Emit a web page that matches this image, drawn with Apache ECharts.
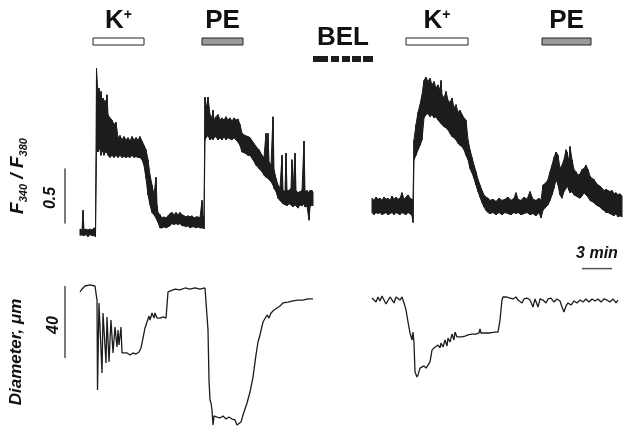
<!DOCTYPE html>
<html><head><meta charset="utf-8">
<script src="https://cdn.jsdelivr.net/npm/echarts@6/dist/echarts.min.js"></script>
<style>html,body{margin:0;padding:0;background:#fff}#c{width:624px;height:430px}</style>
</head><body><div id="c"></div>
<script>
// time in minutes; F340/F380 traces given as [t, lower edge, upper edge] of the noisy band
const ratioCtrl = [
[8.0,0.44,0.50],[8.2,0.45,0.49],[8.3,0.44,0.67],[8.4,0.44,0.49],[8.6,0.45,0.50],[8.8,0.43,0.49],[9.0,0.45,0.50],[9.2,0.44,0.49],[9.4,0.44,0.51],[9.55,0.43,0.50],
[9.65,1.22,1.96],[9.8,1.20,1.72],[9.9,1.26,1.78],[10.0,1.22,1.67],[10.1,1.17,1.75],[10.2,1.20,1.63],[10.3,1.24,1.69],[10.4,1.17,1.58],[10.5,1.22,1.67],[10.6,1.19,1.56],
[10.7,1.22,1.72],[10.8,1.17,1.54],[11.0,1.15,1.51],[11.2,1.17,1.49],[11.4,1.15,1.45],[11.6,1.17,1.47],[11.8,1.15,1.33],[12.0,1.17,1.35],[12.2,1.15,1.31],[12.4,1.16,1.34],
[12.6,1.15,1.31],[12.8,1.16,1.33],[13.0,1.15,1.30],[13.2,1.17,1.34],[13.4,1.15,1.31],[13.6,1.16,1.33],[13.8,1.15,1.31],[14.0,1.15,1.34],[14.2,1.13,1.30],[14.4,1.08,1.26],
[14.6,0.96,1.22],[14.8,0.81,1.13],[15.0,0.72,0.99],[15.2,0.65,0.90],[15.4,0.63,0.81],[15.6,0.60,0.97],[15.7,0.58,0.72],[15.8,0.56,0.65],[16.0,0.51,0.63],[16.2,0.51,0.60],
[16.4,0.52,0.61],[16.6,0.51,0.60],[16.8,0.52,0.62],[17.0,0.53,0.64],[17.2,0.55,0.65],[17.4,0.54,0.63],[17.6,0.55,0.65],[17.8,0.54,0.63],[18.0,0.55,0.65],[18.2,0.53,0.63],
[18.4,0.53,0.62],[18.6,0.52,0.61],[18.8,0.53,0.62],[19.0,0.51,0.61],[19.2,0.52,0.62],[19.4,0.52,0.60],[19.6,0.51,0.61],[19.8,0.52,0.61],[20.0,0.51,0.60],[20.2,0.51,0.76],
[20.3,0.51,0.61],[20.4,0.50,0.62],[20.5,1.31,1.70],[20.6,1.33,1.58],[20.8,1.35,1.70],[21.0,1.31,1.54],[21.2,1.33,1.51],[21.3,1.31,1.58],[21.4,1.33,1.49],[21.6,1.34,1.52],
[21.8,1.31,1.54],[22.0,1.33,1.49],[22.2,1.31,1.51],[22.4,1.34,1.49],[22.6,1.31,1.52],[22.8,1.33,1.49],[23.0,1.32,1.51],[23.2,1.31,1.48],[23.4,1.33,1.51],[23.6,1.31,1.49],
[23.8,1.29,1.50],[24.0,1.26,1.45],[24.2,1.20,1.37],[24.5,1.19,1.35],[24.8,1.17,1.34],[25.0,1.17,1.33],[25.3,1.13,1.29],[25.6,1.08,1.25],[25.9,1.05,1.22],[26.2,1.02,1.17],
[26.4,0.99,1.15],[26.6,0.97,1.37],[26.7,0.97,1.13],[26.8,0.96,1.37],[26.9,0.95,1.11],[27.1,0.93,1.08],[27.3,0.90,1.52],[27.4,0.87,1.04],[27.6,0.84,0.96],[27.8,0.78,0.90],
[28.0,0.76,0.87],[28.2,0.74,1.17],[28.3,0.73,0.85],[28.5,0.72,0.84],[28.6,0.72,1.19],[28.7,0.71,0.85],[28.9,0.73,0.85],[29.1,0.72,0.87],[29.2,0.71,1.13],[29.3,0.70,0.84],
[29.5,0.72,1.19],[29.6,0.71,0.85],[29.8,0.69,0.83],[30.0,0.72,0.84],[30.2,0.71,0.85],[30.4,0.73,1.30],[30.5,0.70,0.84],[30.7,0.71,0.85],[30.9,0.58,0.83],[31.0,0.70,0.85],
[31.2,0.72,0.85],[31.3,0.71,0.83]
];
const ratioBel = [
[37.2,0.65,0.78],[37.4,0.63,0.76],[37.6,0.65,0.79],[37.8,0.64,0.77],[38.0,0.65,0.78],[38.2,0.63,0.76],[38.4,0.64,0.79],[38.6,0.65,0.77],[38.8,0.63,0.78],[39.0,0.64,0.76],
[39.2,0.65,0.80],[39.4,0.63,0.77],[39.6,0.65,0.79],[39.8,0.64,0.77],[40.0,0.63,0.78],[40.2,0.65,0.83],[40.4,0.64,0.77],[40.6,0.63,0.79],[40.8,0.65,0.81],[41.0,0.64,0.78],
[41.2,0.62,0.77],[41.3,0.56,0.76],[41.4,1.13,1.31],[41.6,1.17,1.45],[41.8,1.22,1.56],[42.0,1.26,1.63],[42.2,1.31,1.72],[42.4,1.51,1.85],[42.6,1.54,1.88],[42.8,1.55,1.84],
[43.0,1.52,1.87],[43.2,1.54,1.81],[43.4,1.51,1.84],[43.6,1.52,1.78],[43.8,1.49,1.81],[44.0,1.47,1.76],[44.1,1.46,1.85],[44.2,1.45,1.72],[44.4,1.43,1.69],[44.6,1.42,1.75],
[44.8,1.40,1.67],[45.0,1.37,1.65],[45.2,1.34,1.69],[45.4,1.33,1.60],[45.6,1.31,1.63],[45.8,1.28,1.56],[46.0,1.26,1.58],[46.2,1.25,1.54],[46.4,1.22,1.51],[46.6,1.17,1.49],
[46.8,1.13,1.31],[47.0,1.05,1.22],[47.2,1.01,1.15],[47.4,0.96,1.08],[47.6,0.90,1.02],[47.8,0.84,0.95],[48.0,0.79,0.90],[48.2,0.74,0.85],[48.4,0.70,0.81],[48.6,0.67,0.79],
[48.8,0.65,0.78],[49.0,0.64,0.76],[49.3,0.65,0.77],[49.6,0.63,0.75],[49.9,0.65,0.78],[50.2,0.63,0.76],[50.5,0.65,0.77],[50.8,0.64,0.79],[51.1,0.63,0.76],[51.4,0.65,0.78],
[51.6,0.64,0.83],[51.8,0.65,0.77],[52.1,0.63,0.76],[52.4,0.64,0.79],[52.7,0.65,0.77],[53.0,0.63,0.84],[53.3,0.64,0.77],[53.6,0.62,0.76],[53.9,0.65,0.78],[54.1,0.60,0.76],
[54.3,0.67,0.90],[54.6,0.70,0.92],[54.8,0.72,0.95],[55.0,0.76,1.02],[55.2,0.81,1.08],[55.4,0.87,1.15],[55.6,0.95,1.20],[55.8,0.90,1.17],[56.0,0.81,1.05],[56.2,0.78,1.08],
[56.4,0.84,1.13],[56.6,0.87,1.22],[56.7,0.90,1.20],[56.9,0.85,1.11],[57.0,0.83,1.25],[57.2,0.84,1.13],[57.4,0.81,1.04],[57.6,0.80,1.02],[57.8,0.79,0.99],[58.0,0.78,1.00],
[58.2,0.80,1.04],[58.4,0.83,1.05],[58.6,0.81,1.08],[58.8,0.79,1.04],[59.0,0.76,0.98],[59.2,0.75,0.96],[59.4,0.74,0.95],[59.6,0.72,0.92],[59.8,0.71,0.90],[60.0,0.70,0.89],
[60.2,0.68,0.87],[60.4,0.67,0.85],[60.6,0.65,0.86],[60.8,0.65,0.85],[61.0,0.64,0.84],[61.2,0.63,0.85],[61.4,0.62,0.82],[61.6,0.64,0.83],[61.8,0.61,0.81],[62.0,0.62,0.82],
[62.2,0.61,0.80]
];
// diameter traces, [t, µm]
const diamCtrl = [
[8.0,146.7],[8.2,148.3],[8.5,150.0],[9.0,150.6],[9.5,150.0],[9.6,149.4],[9.7,142.2],[9.75,92.2],[9.9,140.6],[10.2,101.7],
[10.3,135.0],[10.6,107.2],[10.7,132.8],[10.9,107.8],[11.1,131.1],[11.3,112.8],[11.5,127.2],[11.7,116.1],[11.8,125.6],[11.9,117.2],
[12.1,127.2],[12.2,112.8],[12.4,113.3],[12.7,112.8],[13.0,111.7],[13.3,112.8],[13.6,112.2],[13.9,113.3],[14.1,115.6],[14.3,121.1],
[14.5,126.7],[14.7,130.0],[14.9,133.3],[15.0,131.1],[15.2,135.0],[15.4,132.2],[15.5,135.0],[15.7,132.2],[16.0,132.2],[16.3,132.8],
[16.6,132.2],[16.7,139.4],[16.8,146.7],[17.0,147.8],[17.5,148.3],[18.0,147.8],[18.5,148.9],[19.0,148.3],[19.5,148.9],[20.0,148.3],
[20.5,148.9],[20.7,148.3],[20.8,125.6],[20.9,97.8],[21.0,86.7],[21.1,85.0],[21.2,81.1],[21.3,72.8],[21.4,77.8],[21.7,77.2],
[22.0,76.7],[22.3,77.8],[22.6,76.1],[22.9,77.2],[23.2,76.1],[23.5,75.6],[23.7,72.8],[23.9,71.7],[24.1,74.4],[24.3,78.3],
[24.7,85.0],[25.0,91.1],[25.3,99.4],[25.6,111.7],[25.8,118.9],[26.0,122.8],[26.3,130.0],[26.5,131.1],[26.7,133.9],[26.9,132.2],
[27.1,135.0],[27.4,136.7],[27.7,137.8],[28.0,138.9],[28.3,140.6],[28.8,141.1],[29.3,141.7],[29.8,142.2],[30.3,142.2],[30.8,142.8],
[31.3,142.8]
];
const diamBel = [
[37.2,143.3],[37.4,144.4],[37.6,141.1],[37.8,143.9],[38.0,141.7],[38.2,144.4],[38.4,143.9],[38.6,140.0],[38.8,140.6],[39.0,143.9],
[39.2,144.4],[39.4,140.6],[39.6,143.9],[39.8,144.4],[40.0,142.2],[40.2,143.9],[40.4,140.6],[40.6,136.7],[40.8,130.0],[41.0,123.9],
[41.2,120.0],[41.3,124.4],[41.4,118.3],[41.5,102.2],[41.7,99.4],[41.8,100.6],[42.0,104.4],[42.2,103.3],[42.4,105.6],[42.6,104.4],
[42.8,106.1],[43.0,107.8],[43.2,114.4],[43.4,115.6],[43.6,116.7],[43.8,117.2],[44.0,115.6],[44.1,118.3],[44.3,116.1],[44.5,120.0],
[44.7,116.7],[44.8,121.1],[45.0,118.9],[45.2,123.3],[45.4,120.0],[45.5,124.4],[45.7,121.7],[45.9,122.2],[46.2,121.7],[46.5,122.2],
[46.8,122.8],[47.2,123.3],[47.6,123.3],[47.9,123.9],[48.0,126.1],[48.1,123.9],[48.5,123.9],[49.0,123.9],[49.5,124.4],[49.8,124.4],
[50.0,131.1],[50.2,142.2],[50.3,143.9],[50.6,143.9],[51.0,143.3],[51.3,142.8],[51.6,143.9],[51.8,142.2],[52.0,143.3],[52.2,140.6],
[52.4,142.8],[52.7,143.3],[53.0,142.2],[53.3,138.3],[53.5,142.8],[53.8,138.3],[54.0,142.8],[54.3,142.2],[54.6,140.6],[54.8,142.8],
[55.1,143.3],[55.4,141.1],[55.7,142.8],[56.0,141.7],[56.2,138.3],[56.4,135.6],[56.6,138.9],[56.8,140.6],[57.1,139.4],[57.4,141.7],
[57.7,140.6],[58.0,142.2],[58.3,141.1],[58.6,142.8],[58.9,141.1],[59.2,142.8],[59.5,141.7],[59.8,142.8],[60.1,141.1],[60.4,142.8],
[60.7,142.2],[61.0,141.1],[61.3,142.8],[61.6,140.6],[61.8,142.2]
];
// drug application periods [start, end] in minutes
const stimK = [[9.3,14.4],[40.6,46.8]];
const stimPE = [[20.2,24.3],[54.2,59.1]];
const stimBEL = [[31.3,37.3]];
// scale bars
const scaleRatio = 0.5, scaleDiam = 40, scaleTime = 3;

const INK = '#1c1c1c';
const FONT = '"Liberation Sans", Arial, sans-serif';
const chart = echarts.init(document.getElementById('c'), null, {renderer: 'canvas'});

// band between lower and upper edge, one quad per pair of consecutive samples
function bandSeries(arr) {
  const segs = [];
  for (let i = 0; i < arr.length - 1; i++) {
    segs.push([arr[i][0], arr[i][1], arr[i][2], arr[i+1][0], arr[i+1][1], arr[i+1][2]]);
  }
  return {type:'custom', xAxisIndex:0, yAxisIndex:0, clip:false, data:segs,
    renderItem:function(params, api){
      const a = api.coord([api.value(0), api.value(1)]);
      const b = api.coord([api.value(0), api.value(2)]);
      const c = api.coord([api.value(3), api.value(5)]);
      const d = api.coord([api.value(3), api.value(4)]);
      return {type:'polygon', shape:{points:[a, b, c, d]},
        style:{fill:INK, stroke:INK, lineWidth:1, lineJoin:'round'}};
    }};
}

const stimData = [];
stimK.forEach(s => stimData.push([s[0], s[1], 0]));
stimPE.forEach(s => stimData.push([s[0], s[1], 1]));
stimBEL.forEach(s => stimData.push([s[0], s[1], 2]));

const xAx = i => ({type:'value', gridIndex:i, min:0, max:62.4, show:false});

chart.setOption({
  animation:false,
  backgroundColor:'#fff',
  grid:[
    {left:0, right:0, top:64, height:209},
    {left:0, right:0, top:286, height:144},
    {left:0, right:0, top:0, height:64}
  ],
  xAxis:[xAx(0), xAx(1), xAx(2)],
  yAxis:[
    {type:'value', gridIndex:0, min:0.1, max:2.0, show:false},
    {type:'value', gridIndex:1, min:70, max:150, show:false},
    {type:'value', gridIndex:2, min:0, max:1, show:false}
  ],
  series:[
    bandSeries(ratioCtrl),
    bandSeries(ratioBel),
    {type:'line', xAxisIndex:1, yAxisIndex:1, symbol:'none', clip:false, data:diamCtrl, lineStyle:{color:INK, width:1.3}},
    {type:'line', xAxisIndex:1, yAxisIndex:1, symbol:'none', clip:false, data:diamBel, lineStyle:{color:INK, width:1.3}},
    // scale bars
    {type:'line', xAxisIndex:0, yAxisIndex:0, symbol:'none', clip:false,
     data:[[6.5,0.55],[6.5,0.55+scaleRatio]], lineStyle:{color:'#333', width:1.3}},
    {type:'line', xAxisIndex:1, yAxisIndex:1, symbol:'none', clip:false,
     data:[[6.5,110],[6.5,110+scaleDiam]], lineStyle:{color:'#333', width:1.3}},
    {type:'line', xAxisIndex:0, yAxisIndex:0, symbol:'none', clip:false,
     data:[[58.2,0.14],[58.2+scaleTime,0.14]], lineStyle:{color:'#555', width:1.5}},
    // drug application bars and labels
    {type:'custom', xAxisIndex:2, yAxisIndex:2, clip:false, data:stimData,
     renderItem:function(params, api){
       const x0 = api.coord([api.value(0), 0])[0];
       const x1 = api.coord([api.value(1), 0])[0];
       const kind = api.value(2);
       const cx = (x0 + x1) / 2;
       const rich = {
         b:{fontSize:26, fontWeight:'bold', fontFamily:FONT, fill:'#111', lineHeight:26, verticalAlign:'middle'},
         p:{fontSize:14, fontWeight:'bold', fontFamily:FONT, fill:'#111', lineHeight:14, verticalAlign:'top'}
       };
       if (kind === 2) {
         return {type:'group', children:[
           {type:'line', shape:{x1:x0, y1:59, x2:x1, y2:59},
            style:{stroke:INK, lineWidth:6, lineDash:[15,3,8,3,8,2,9,2,10]}},
           {type:'text', x:cx, y:38, style:{text:'{b|BEL}', rich:rich, align:'center', verticalAlign:'middle'}}
         ]};
       }
       const label = kind === 0 ? '{b|K}{p|+}' : '{b|PE}';
       return {type:'group', children:[
         {type:'rect', shape:{x:x0, y:38, width:x1-x0, height:7},
          style:{fill: kind === 0 ? '#fff' : '#9a9a9a', stroke:'#222', lineWidth:1}},
         {type:'text', x:cx, y:21, style:{text:label, rich:rich, align:'center', verticalAlign:'middle'}}
       ]};
     }}
  ],
  graphic:[
    {type:'text', x:18, y:176, rotation:Math.PI/2,
     style:{text:'{f|F}{s|340}{f| / F}{s|380}', align:'center', verticalAlign:'middle',
       rich:{
         f:{fontSize:19, fontWeight:'bold', fontStyle:'italic', fontFamily:FONT, fill:'#111', lineHeight:22, verticalAlign:'middle'},
         s:{fontSize:11, fontWeight:'bold', fontStyle:'italic', fontFamily:FONT, fill:'#111', lineHeight:11, verticalAlign:'bottom'}
       }}},
    {type:'text', x:51, y:198, rotation:Math.PI/2,
     style:{text:'0.5', fontSize:16, fontWeight:'bold', fontStyle:'italic', fontFamily:FONT, fill:'#111', align:'center', verticalAlign:'middle'}},
    {type:'text', x:16, y:352, rotation:Math.PI/2,
     style:{text:'Diameter, μm', fontSize:17, fontWeight:'bold', fontStyle:'italic', fontFamily:FONT, fill:'#111', align:'center', verticalAlign:'middle'}},
    {type:'text', x:54, y:325, rotation:Math.PI/2,
     style:{text:'40', fontSize:16, fontWeight:'bold', fontStyle:'italic', fontFamily:FONT, fill:'#111', align:'center', verticalAlign:'middle'}},
    {type:'text', x:597, y:254,
     style:{text:'3 min', fontSize:16, fontWeight:'bold', fontStyle:'italic', fontFamily:FONT, fill:'#111', align:'center', verticalAlign:'middle'}}
  ]
});
</script>
</body></html>
